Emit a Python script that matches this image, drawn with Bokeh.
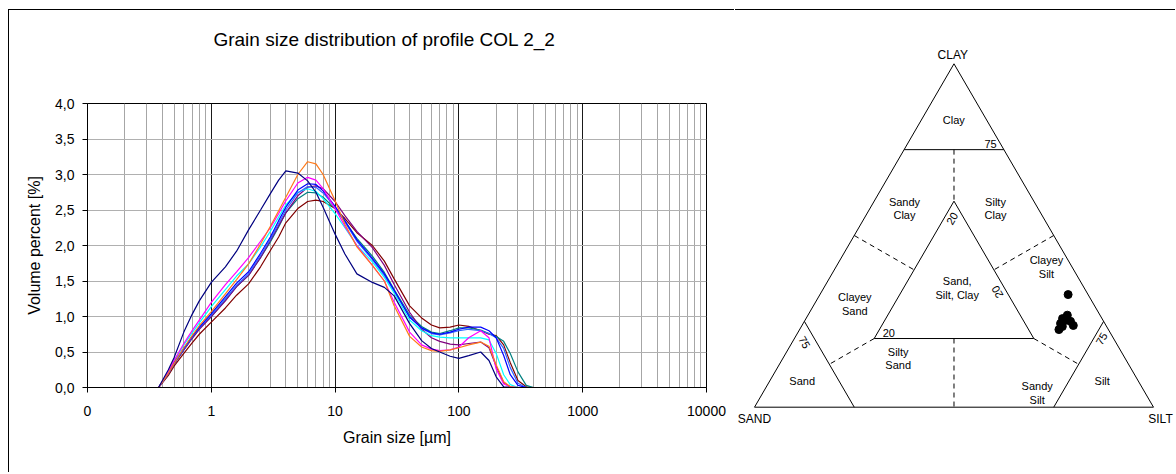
from bokeh.plotting import figure
from bokeh.models import FixedTicker
from bokeh.embed import file_html
from bokeh.resources import INLINE
from bokeh.core.properties import value

FONT = "Liberation Sans"

# ---------------- grain size distribution data ----------------
grain_size_um = [0.375, 0.45, 0.5, 0.6, 0.7, 0.8, 1, 1.3, 1.6, 2, 2.5, 3, 3.5, 4, 5, 6, 7, 8,
                 10, 12, 15, 20, 25, 30, 40, 50, 60, 70, 85, 100, 120, 150, 175, 200, 230,
                 260, 300, 350, 400, 2000]

s_navy = [0, 0.25, 0.42, 0.78, 1.03, 1.22, 1.48, 1.70, 1.92, 2.22, 2.50, 2.73, 2.92, 3.05, 3.02,
          2.91, 2.75, 2.54, 2.16, 1.88, 1.60, 1.48, 1.41, 1.29, 0.90, 0.66, 0.55, 0.50, 0.44,
          0.41, 0.45, 0.50, 0.38, 0.15, 0.01, 0, 0, 0, 0, 0]
s_orange = [0, 0.20, 0.34, 0.56, 0.73, 0.87, 1.07, 1.32, 1.52, 1.74, 2.02, 2.27, 2.49, 2.68, 3.00,
            3.18, 3.15, 3.00, 2.63, 2.30, 1.98, 1.72, 1.50, 1.15, 0.72, 0.57, 0.52, 0.51, 0.53,
            0.56, 0.60, 0.64, 0.58, 0.32, 0.08, 0.01, 0, 0, 0, 0]
s_magenta = [0, 0.22, 0.38, 0.62, 0.80, 0.95, 1.20, 1.45, 1.63, 1.83, 2.06, 2.25, 2.45, 2.63, 2.88,
             2.96, 2.92, 2.80, 2.52, 2.27, 2.00, 1.72, 1.50, 1.20, 0.78, 0.60, 0.54, 0.52, 0.53,
             0.57, 0.70, 0.80, 0.70, 0.26, 0.05, 0.01, 0, 0, 0, 0]
s_blue = [0, 0.20, 0.35, 0.55, 0.72, 0.85, 1.04, 1.28, 1.47, 1.63, 1.89, 2.12, 2.35, 2.54, 2.78,
          2.87, 2.86, 2.77, 2.55, 2.35, 2.08, 1.82, 1.60, 1.37, 0.99, 0.84, 0.77, 0.75, 0.78,
          0.82, 0.85, 0.85, 0.80, 0.70, 0.45, 0.18, 0.03, 0, 0, 0]
s_royal = [0, 0.20, 0.34, 0.54, 0.71, 0.84, 1.02, 1.25, 1.44, 1.60, 1.86, 2.09, 2.31, 2.50, 2.74,
           2.83, 2.82, 2.74, 2.54, 2.33, 2.06, 1.80, 1.58, 1.36, 1.00, 0.83, 0.76, 0.74, 0.77,
           0.80, 0.82, 0.80, 0.76, 0.70, 0.55, 0.28, 0.06, 0, 0, 0]
s_purple = [0, 0.19, 0.33, 0.53, 0.69, 0.82, 1.00, 1.22, 1.42, 1.58, 1.83, 2.07, 2.28, 2.46, 2.70,
            2.82, 2.84, 2.80, 2.62, 2.42, 2.20, 1.97, 1.72, 1.45, 1.06, 0.82, 0.70, 0.65, 0.61,
            0.60, 0.62, 0.64, 0.56, 0.30, 0.07, 0.01, 0, 0, 0, 0]
s_cyan = [0, 0.21, 0.37, 0.60, 0.77, 0.91, 1.14, 1.38, 1.57, 1.74, 1.98, 2.20, 2.40, 2.57, 2.75,
          2.80, 2.76, 2.66, 2.45, 2.25, 2.00, 1.77, 1.55, 1.33, 0.95, 0.80, 0.73, 0.71, 0.70,
          0.70, 0.70, 0.70, 0.67, 0.48, 0.18, 0.04, 0, 0, 0, 0]
s_teal = [0, 0.19, 0.33, 0.53, 0.70, 0.83, 1.00, 1.23, 1.42, 1.58, 1.83, 2.05, 2.26, 2.46, 2.66,
          2.75, 2.74, 2.68, 2.52, 2.34, 2.10, 1.85, 1.62, 1.38, 1.02, 0.86, 0.78, 0.76, 0.80,
          0.84, 0.84, 0.81, 0.76, 0.72, 0.65, 0.48, 0.22, 0.03, 0, 0]
s_maroon = [0, 0.17, 0.30, 0.48, 0.63, 0.75, 0.92, 1.12, 1.30, 1.46, 1.70, 1.93, 2.12, 2.32, 2.52,
            2.62, 2.64, 2.62, 2.52, 2.38, 2.18, 2.00, 1.78, 1.53, 1.15, 0.98, 0.88, 0.84, 0.85,
            0.88, 0.86, 0.80, 0.75, 0.73, 0.60, 0.35, 0.10, 0.01, 0, 0]

series_values = [s_maroon, s_teal, s_purple, s_cyan, s_royal, s_blue, s_magenta, s_orange, s_navy]
series_colors = ["#800000", "#008080", "#800080", "#00FFFF", "#3366FF", "#0000FF", "#FF00FF",
                 "#FF7A1A", "#000080"]

chart_title = "Grain size distribution of profile COL 2_2"
x_ticks = [0.1, 1, 10, 100, 1000, 10000]
x_tick_labels = ["0", "1", "10", "100", "1000", "10000"]
y_ticks = [0, 0.5, 1, 1.5, 2, 2.5, 3, 3.5, 4]
y_tick_labels = ["0,0", "0,5", "1,0", "1,5", "2,0", "2,5", "3,0", "3,5", "4,0"]

# ---------------- ternary data (percent) ----------------
sample_clay = [32.8, 26.8, 25.8, 24.4, 25.0, 23.8, 22.6, 23.5, 25.2]
sample_silt = [62.2, 65.0, 64.3, 64.5, 66.7, 68.0, 65.0, 65.4, 65.1]
sample_sand = [100 - c - s for c, s in zip(sample_clay, sample_silt)]

# class boundaries as (clay %, silt %)
solid_bounds = [
    [(100, 0), (0, 0), (0, 100), (100, 0)],
    [(75, 0), (75, 25)],
    [(60, 20), (20, 20), (20, 60), (60, 20)],
    [(25, 0), (0, 25)],
    [(25, 75), (0, 75)],
]
dashed_bounds = [
    [(75, 12.5), (60, 20)],
    [(20, 40), (0, 50)],
    [(50, 0), (40, 20)],
    [(50, 50), (40, 40)],
    [(20, 20), (12.5, 12.5)],
    [(20, 60), (12.5, 75)],
]


def tern(clay, silt):
    return (silt + clay / 2.0) / 100.0, clay / 100.0


# ---------------- left chart ----------------
p1 = figure(x_axis_type="log", x_range=(0.1, 10000), y_range=(0, 4),
            width=726, height=463,
            min_border_left=78, min_border_right=29, min_border_top=93, min_border_bottom=86,
            toolbar_location=None, output_backend="svg",
            styles={"position": "absolute", "left": "8px", "top": "9px",
                    "border-left": "1px solid black", "border-top": "1px solid black"})
p1.background_fill_color = "white"
p1.outline_line_color = "black"
p1.title.visible = False

minor = [m * t for t in x_ticks[:-1] for m in range(2, 10)]
p1.xaxis.ticker = FixedTicker(ticks=x_ticks, minor_ticks=minor)
p1.xaxis.major_label_overrides = {t: l for t, l in zip(x_ticks, x_tick_labels)}
p1.yaxis.ticker = FixedTicker(ticks=y_ticks)
p1.yaxis.major_label_overrides = {t: l for t, l in zip(y_ticks, y_tick_labels)}

for ax in (p1.xaxis[0], p1.yaxis[0]):
    ax.axis_line_color = "black"
    ax.major_tick_line_color = "black"
    ax.major_tick_out = 5
    ax.major_tick_in = 0
    ax.minor_tick_line_color = None
    ax.major_label_text_font = FONT
    ax.major_label_text_font_size = "14px"
    ax.major_label_text_color = "black"
    ax.axis_label_text_font = FONT
    ax.axis_label_text_font_size = "16px"
    ax.axis_label_text_font_style = "normal"
    ax.axis_label_text_color = "black"

p1.xaxis.axis_label = "Grain size [µm]"
p1.yaxis.axis_label = "Volume percent [%]"
p1.xaxis.major_label_standoff = 13
p1.xaxis.axis_label_standoff = 10
p1.yaxis.major_label_standoff = 8
p1.yaxis.axis_label_standoff = 9

p1.xgrid.grid_line_color = "#1a1a1a"
p1.xgrid.minor_grid_line_color = "#a6a6a6"
p1.ygrid.grid_line_color = "#b0b0b0"

for vals, col in zip(series_values, series_colors):
    p1.line(grain_size_um, vals, line_color=col, line_width=1.2)

# ---------------- title strip ----------------
p0 = figure(x_range=(0, 1), y_range=(0, 1), width=420, height=30, min_border=0,
            x_axis_type=None, y_axis_type=None,
            toolbar_location=None, output_backend="svg",
            styles={"position": "absolute", "left": "174px", "top": "24px"})
p0.grid.visible = False
p0.outline_line_color = None
p0.background_fill_color = None
p0.border_fill_color = None
p0.text([0.5], [0.5], text=[chart_title], text_align="center", text_baseline="middle",
        text_font=value(FONT), text_font_size=value("19px"), text_color="black")

# ---------------- ternary chart ----------------
p2 = figure(x_range=(-0.04762, 1.05514), y_range=(-0.19307, 1.15521),
            width=440, height=463, min_border=0,
            x_axis_type=None, y_axis_type=None,
            toolbar_location=None, output_backend="svg",
            styles={"position": "absolute", "left": "735px", "top": "9px",
                    "border-top": "1px solid black"})
p2.grid.visible = False
p2.outline_line_color = None


def proj_lines(bounds):
    xs, ys = [], []
    for ln in bounds:
        pts = [tern(c, s) for c, s in ln]
        xs.append([p[0] for p in pts])
        ys.append([p[1] for p in pts])
    return xs, ys


xs, ys = proj_lines(solid_bounds)
p2.multi_line(xs, ys, line_color="black", line_width=1)
xs, ys = proj_lines(dashed_bounds)
p2.multi_line(xs, ys, line_color="black", line_width=1, line_dash="5 4")

px = [tern(c, s)[0] for c, s in zip(sample_clay, sample_silt)]
py = [tern(c, s)[1] for c, s in zip(sample_clay, sample_silt)]
p2.scatter(px, py, size=8, marker="circle", fill_color="black", line_color="black")

# region labels
lbl_x = [0.4995, 0.5915, 0.3759, 0.6040, 0.5080, 0.2514, 0.7318, 0.3366, 0.3602, 0.1195,
         0.7085, 0.8714]
lbl_y = [0.8349, 0.7650, 0.5786, 0.5786, 0.3471, 0.2999, 0.4089, 0.2175, 0.1418, 0.0757,
         0.0419, 0.0757]
lbl_t = ["Clay", "75", "Sandy\nClay", "Silty\nClay", "Sand,\nSilt, Clay", "Clayey\nSand",
         "Clayey\nSilt", "20", "Silty\nSand", "Sand", "Sandy\nSilt", "Silt"]
p2.text(lbl_x, lbl_y, text=lbl_t, text_align="center", text_baseline="middle",
        text_font=value(FONT), text_font_size=value("11px"), text_color="black",
        text_line_height=1.15)

rot_x = [0.4950, 0.6083, 0.1253, 0.8697]
rot_y = [0.5495, 0.3355, 0.1893, 0.1992]
rot_t = ["20", "20", "75", "75"]
rot_a = [1.0472, 2.0944, -1.0472, 1.0472]
p2.text(rot_x, rot_y, text=rot_t, angle=rot_a, text_align="center", text_baseline="middle",
        text_font=value(FONT), text_font_size=value("11px"), text_color="black")

corner_x = [0.4970, 0.0, 1.0175]
corner_y = [1.0262, -0.0338, -0.0338]
corner_t = ["CLAY", "SAND", "SILT"]
p2.text(corner_x, corner_y, text=corner_t, text_align="center",
        text_baseline="middle", text_font=value(FONT), text_font_size=value("12px"),
        text_color="black")

open("out.html", "w").write(file_html([p1, p2, p0], INLINE))
